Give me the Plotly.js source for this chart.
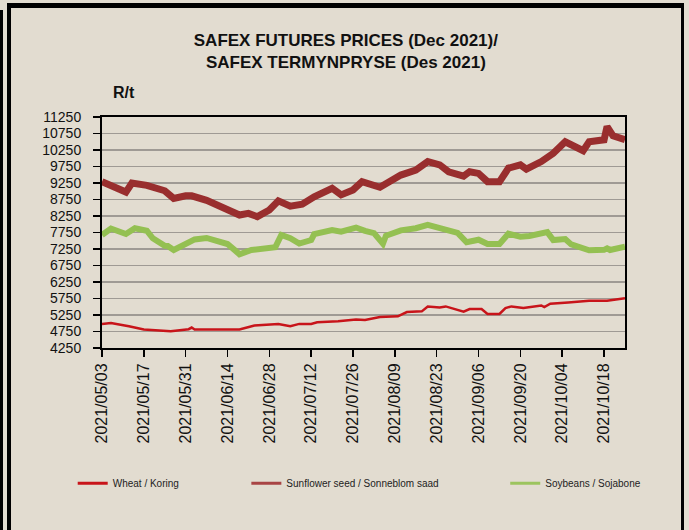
<!DOCTYPE html>
<html>
<head>
<meta charset="utf-8">
<script src="https://cdn.plot.ly/plotly-3.0.1.min.js"></script>
<style>
  html, body { margin:0; padding:0; background:#e2dcd0; width:689px; height:530px; overflow:hidden; }
  #chart { position:absolute; left:0; top:0; width:689px; height:530px; }
  .bd { position:absolute; background:#000; pointer-events:none; }
</style>
</head>
<body>
<div id="chart"></div>
<div class="bd" style="left:0;top:10px;width:3px;height:520px;"></div>
<div class="bd" style="left:7px;top:3px;width:4px;height:527px;"></div>
<div class="bd" style="left:7px;top:3px;width:677px;height:5px;"></div>
<div class="bd" style="left:681px;top:3px;width:3px;height:527px;"></div>
<script>
// ---- data ----
const wheatDates = ['2021-05-03','2021-05-06','2021-05-12','2021-05-17','2021-05-26','2021-06-01','2021-06-02','2021-06-03','2021-06-18','2021-06-23','2021-07-01','2021-07-05','2021-07-08','2021-07-12','2021-07-14','2021-07-21','2021-07-27','2021-07-30','2021-08-04','2021-08-10','2021-08-13','2021-08-18','2021-08-20','2021-08-24','2021-08-26','2021-08-30','2021-09-01','2021-09-03','2021-09-07','2021-09-09','2021-09-13','2021-09-15','2021-09-17','2021-09-21','2021-09-27','2021-09-28','2021-09-30','2021-10-06','2021-10-13','2021-10-19','2021-10-25'];
const wheatValues = [4980,5010,4910,4810,4760,4820,4870,4810,4810,4930,4980,4910,4980,4980,5030,5060,5110,5100,5190,5210,5340,5360,5510,5480,5510,5410,5350,5430,5430,5280,5280,5460,5510,5460,5540,5490,5590,5630,5680,5680,5760];

const sunflowerDates = ['2021-05-03','2021-05-07','2021-05-11','2021-05-13','2021-05-18','2021-05-24','2021-05-25','2021-05-27','2021-05-31','2021-06-02','2021-06-07','2021-06-10','2021-06-15','2021-06-18','2021-06-21','2021-06-24','2021-06-28','2021-07-01','2021-07-05','2021-07-09','2021-07-13','2021-07-19','2021-07-22','2021-07-26','2021-07-29','2021-08-04','2021-08-11','2021-08-16','2021-08-20','2021-08-24','2021-08-27','2021-09-01','2021-09-03','2021-09-06','2021-09-09','2021-09-13','2021-09-16','2021-09-20','2021-09-22','2021-09-27','2021-10-01','2021-10-05','2021-10-11','2021-10-13','2021-10-18','2021-10-19','2021-10-21','2021-10-25'];
const sunflowerValues = [9290,9130,8975,9250,9180,9015,8950,8780,8860,8860,8725,8610,8420,8280,8330,8230,8430,8710,8550,8610,8830,9090,8890,9040,9290,9120,9490,9640,9900,9800,9590,9460,9590,9540,9290,9290,9700,9800,9670,9900,10150,10500,10230,10500,10560,10960,10680,10560];

const soyDates = ['2021-05-03','2021-05-06','2021-05-11','2021-05-14','2021-05-18','2021-05-20','2021-05-24','2021-05-25','2021-05-27','2021-05-31','2021-06-03','2021-06-07','2021-06-10','2021-06-14','2021-06-17','2021-06-18','2021-06-22','2021-06-28','2021-06-30','2021-07-02','2021-07-05','2021-07-08','2021-07-12','2021-07-13','2021-07-19','2021-07-22','2021-07-27','2021-07-30','2021-08-02','2021-08-05','2021-08-06','2021-08-11','2021-08-16','2021-08-20','2021-08-25','2021-08-30','2021-09-02','2021-09-06','2021-09-09','2021-09-13','2021-09-16','2021-09-20','2021-09-23','2021-09-29','2021-10-01','2021-10-05','2021-10-07','2021-10-13','2021-10-18','2021-10-19','2021-10-20','2021-10-25'];
const soyValues = [7675,7870,7705,7880,7805,7575,7345,7340,7220,7430,7540,7585,7520,7400,7170,7090,7220,7270,7305,7675,7575,7415,7520,7700,7825,7775,7900,7800,7730,7410,7650,7815,7880,7980,7840,7740,7455,7530,7400,7400,7715,7625,7645,7760,7520,7550,7390,7210,7225,7270,7220,7320];

const seriesNames = ['Wheat / Koring', 'Sunflower seed / Sonneblom saad', 'Soybeans / Sojabone'];
const xTickDates = ['2021-05-03','2021-05-17','2021-05-31','2021-06-14','2021-06-28','2021-07-12','2021-07-26','2021-08-09','2021-08-23','2021-09-06','2021-09-20','2021-10-04','2021-10-18'];
const xTickLabels = ['2021/05/03','2021/05/17','2021/05/31','2021/06/14','2021/06/28','2021/07/12','2021/07/26','2021/08/09','2021/08/23','2021/09/06','2021/09/20','2021/10/04','2021/10/18'];
const yTickValues = [4250,4750,5250,5750,6250,6750,7250,7750,8250,8750,9250,9750,10250,10750,11250];
const yTickLabels = ['4250','4750','5250','5750','6250','6750','7250','7750','8250','8750','9250','9750','10250','10750','11250'];
const titleLines = ['SAFEX FUTURES PRICES (Dec 2021)/', 'SAFEX TERMYNPRYSE (Des 2021)'];
const yUnit = 'R/t';

// ---- styling ----
const cWheat = '#c8141a', cSun = '#992e2e', cSoy = '#94c052';
const regular = 'Liberation Sans, Arial, sans-serif';

const traces = [
  {x: wheatDates, y: wheatValues, type:'scatter', mode:'lines', line:{color:cWheat, width:2.5}, showlegend:false, hoverinfo:'skip'},
  {x: sunflowerDates, y: sunflowerValues, type:'scatter', mode:'lines', line:{color:cSun, width:7}, showlegend:false, hoverinfo:'skip'},
  {x: soyDates, y: soyValues, type:'scatter', mode:'lines', line:{color:cSoy, width:6}, showlegend:false, hoverinfo:'skip'},
  // legend entries
  {x:[null], y:[null], type:'scatter', mode:'lines', name: seriesNames[0], line:{color:cWheat, width:3}, legend:'legend'},
  {x:[null], y:[null], type:'scatter', mode:'lines', name: seriesNames[1], line:{color:'#a84444', width:3}, legend:'legend2'},
  {x:[null], y:[null], type:'scatter', mode:'lines', name: seriesNames[2], line:{color:'#9cc45e', width:3}, legend:'legend3'}
];

const legFont = {family: regular, size: 10, color: '#222'};
const legBase = {orientation:'h', yanchor:'middle', y:-0.585, xanchor:'left', bgcolor:'rgba(0,0,0,0)', font: legFont, borderwidth:0};

const layout = {
  width: 689, height: 530,
  margin: {l:102, r:64, t:117, b:182},
  paper_bgcolor: 'rgba(0,0,0,0)',
  plot_bgcolor: 'rgba(0,0,0,0)',
  title: {
    text: titleLines.join('<br>'),
    font: {family: regular, size: 17, color: '#111', weight: 'bold'},
    x: 0.502, xref: 'container', xanchor: 'center',
    y: 1 - 46/530, yref: 'container', yanchor: 'top'
  },
  xaxis: {
    type: 'date',
    range: ['2021-05-03', '2021-10-25'],
    tickvals: xTickDates, ticktext: xTickLabels,
    tickangle: -90,
    ticks: 'outside', ticklen: 7, tickwidth: 1.5, tickcolor: '#000',
    showline: true, linecolor: '#000', linewidth: 2, mirror: true,
    showgrid: false, zeroline: false,
    tickfont: {family: regular, size: 16, color: '#111'}
  },
  yaxis: {
    range: [4250, 11250],
    tickvals: yTickValues, ticktext: yTickLabels,
    ticks: 'outside', ticklen: 7, tickwidth: 1.5, tickcolor: '#000',
    ticklabelstandoff: 9,
    showline: true, linecolor: '#000', linewidth: 2, mirror: true,
    showgrid: true, gridcolor: '#9f9a94', gridwidth: 1.5, zeroline: false,
    tickfont: {family: regular, size: 14, color: '#111'}
  },
  legend: Object.assign({}, legBase, {x: -0.056}),
  legend2: Object.assign({}, legBase, {x: 0.276}),
  legend3: Object.assign({}, legBase, {x: 0.771}),
  annotations: [
    {text: yUnit, xref:'paper', yref:'paper', x: 0.018, y: 1.104, xanchor:'left', yanchor:'middle', showarrow:false,
     font: {family: regular, size: 16, color: '#111', weight: 'bold'}}
  ],
  showlegend: true
};

Plotly.newPlot('chart', traces, layout, {displayModeBar:false, staticPlot:true});
</script>
</body>
</html>
